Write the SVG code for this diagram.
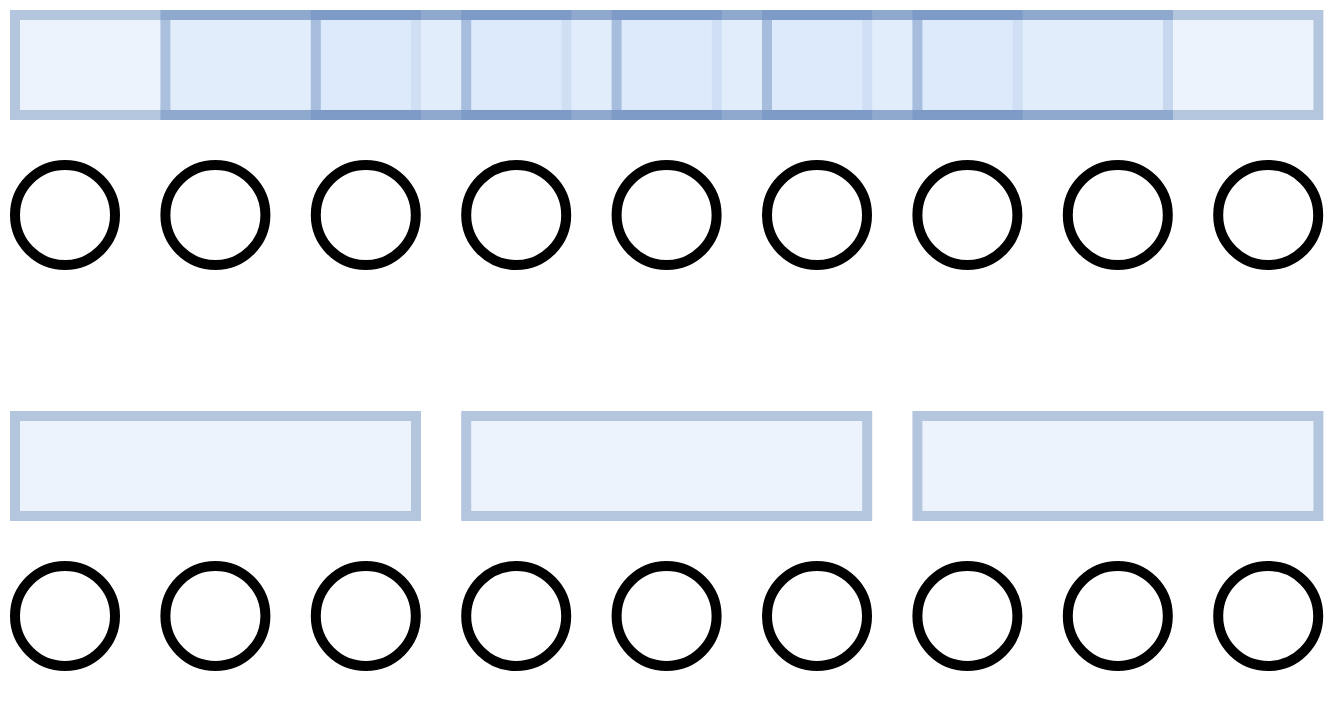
<svg xmlns="http://www.w3.org/2000/svg" width="1334" height="707" viewBox="0 0 1334 707">
<style>
.win{fill:#dae8fc;stroke:#6c8ebf;stroke-width:10;opacity:0.5}
.unit{fill:#ffffff;stroke:#000000;stroke-width:10}
</style>
<rect x="0" y="0" width="1334" height="707" fill="#ffffff"/>
<g id="windows-stride1">
<g id="w1"><rect class="win" x="15" y="15" width="401" height="100"/></g>
<g id="w2"><rect class="win" x="165.4" y="15" width="401" height="100"/></g>
<g id="w3"><rect class="win" x="315.8" y="15" width="401" height="100"/></g>
<g id="w4"><rect class="win" x="466.2" y="15" width="401" height="100"/></g>
<g id="w5"><rect class="win" x="616.6" y="15" width="401" height="100"/></g>
<g id="w6"><rect class="win" x="767" y="15" width="401" height="100"/></g>
<g id="w7"><rect class="win" x="917.4" y="15" width="401" height="100"/></g>
</g>
<g id="units-top">
<g id="t1"><circle class="unit" cx="65" cy="215" r="50"/></g>
<g id="t2"><circle class="unit" cx="215.4" cy="215" r="50"/></g>
<g id="t3"><circle class="unit" cx="365.8" cy="215" r="50"/></g>
<g id="t4"><circle class="unit" cx="516.2" cy="215" r="50"/></g>
<g id="t5"><circle class="unit" cx="666.6" cy="215" r="50"/></g>
<g id="t6"><circle class="unit" cx="817" cy="215" r="50"/></g>
<g id="t7"><circle class="unit" cx="967.4" cy="215" r="50"/></g>
<g id="t8"><circle class="unit" cx="1117.8" cy="215" r="50"/></g>
<g id="t9"><circle class="unit" cx="1268.2" cy="215" r="50"/></g>
</g>
<g id="windows-stride3">
<g id="b1"><rect class="win" x="15" y="416" width="401" height="100"/></g>
<g id="b2"><rect class="win" x="466.2" y="416" width="401" height="100"/></g>
<g id="b3"><rect class="win" x="917.4" y="416" width="401" height="100"/></g>
</g>
<g id="units-bottom">
<g id="u1"><circle class="unit" cx="65" cy="616" r="50"/></g>
<g id="u2"><circle class="unit" cx="215.4" cy="616" r="50"/></g>
<g id="u3"><circle class="unit" cx="365.8" cy="616" r="50"/></g>
<g id="u4"><circle class="unit" cx="516.2" cy="616" r="50"/></g>
<g id="u5"><circle class="unit" cx="666.6" cy="616" r="50"/></g>
<g id="u6"><circle class="unit" cx="817" cy="616" r="50"/></g>
<g id="u7"><circle class="unit" cx="967.4" cy="616" r="50"/></g>
<g id="u8"><circle class="unit" cx="1117.8" cy="616" r="50"/></g>
<g id="u9"><circle class="unit" cx="1268.2" cy="616" r="50"/></g>
</g>
<g id="connectors"></g>
</svg>
